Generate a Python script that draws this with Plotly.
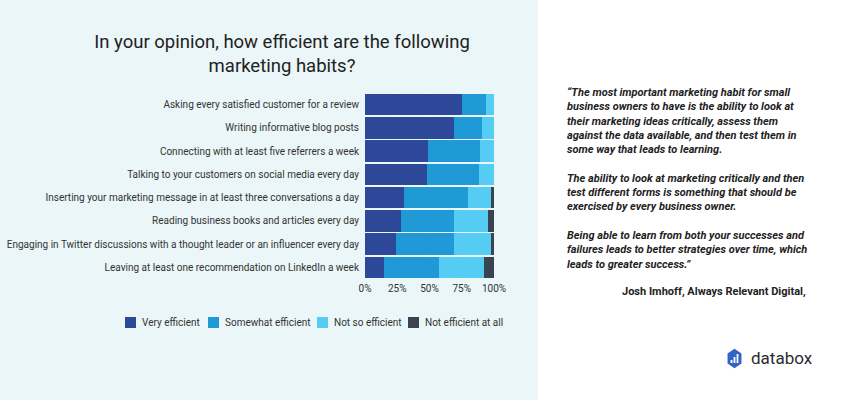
import plotly.graph_objects as go
import math

W, H = 850, 400

categories = [
    "Asking every satisfied customer for a review",
    "Writing informative blog posts",
    "Connecting with at least five referrers a week",
    "Talking to your customers on social media every day",
    "Inserting your marketing message in at least three conversations a day",
    "Reading business books and articles every day",
    "Engaging in Twitter discussions with a thought leader or an influencer every day",
    "Leaving at least one recommendation on LinkedIn a week",
]
very_efficient = [75, 69, 49, 48, 30, 28, 24, 15]
somewhat_efficient = [19, 22, 40, 40, 50, 41, 45, 42]
not_so_efficient = [6, 9, 11, 12, 18, 26, 29, 35]
not_efficient_at_all = [0, 0, 0, 0, 2, 5, 2, 8]

series_names = ["Very efficient", "Somewhat efficient", "Not so efficient", "Not efficient at all"]
series_values = [very_efficient, somewhat_efficient, not_so_efficient, not_efficient_at_all]
series_colors = ["#2E4899", "#1F9AD6", "#55CCF3", "#3A4350"]

tick_vals = [0, 25, 50, 75, 100]
tick_text = ["0%", "25%", "50%", "75%", "100%"]

title_text = "In your opinion, how efficient are the following<br>marketing habits?"
quote_text = (
    "<b><i>\u201cThe most important marketing habit for small<br>"
    "business owners to have is the ability to look at<br>"
    "their marketing ideas critically, assess them<br>"
    "against the data available, and then test them in<br>"
    "some way that leads to learning.<br><br>"
    "The ability to look at marketing critically and then<br>"
    "test different forms is something that should be<br>"
    "exercised by every business owner.<br><br>"
    "Being able to learn from both your successes and<br>"
    "failures leads to better strategies over time, which<br>"
    "leads to greater success.\u201d</i></b>"
)
attribution = "<b>Josh Imhoff, Always Relevant Digital,</b>"

# legend entry left edges (px) for the swatches
legend_x = [125, 208, 317, 408]


def px(x):
    return x / W


def py(y):
    return 1 - y / H


fig = go.Figure()
for name, vals, col in zip(series_names, series_values, series_colors):
    fig.add_trace(go.Bar(
        y=categories, x=vals, name=name, orientation="h",
        marker=dict(color=col, line=dict(width=0)),
    ))

shapes = [
    dict(type="rect", xref="paper", yref="paper", x0=0, x1=px(538), y0=0, y1=1,
         fillcolor="#EAF6F8", line=dict(width=0), layer="below"),
]
annotations = []

# legend (swatch + label)
for lx, name, col in zip(legend_x, series_names, series_colors):
    shapes.append(dict(type="rect", xref="paper", yref="paper",
                       x0=px(lx), x1=px(lx + 11), y0=py(328), y1=py(317),
                       fillcolor=col, line=dict(width=0)))
    annotations.append(dict(text=name, xref="paper", yref="paper", x=px(lx + 14.5),
                            y=py(322.5), xanchor="left", yanchor="middle", showarrow=False,
                            font=dict(family="Roboto", size=10, color="#333333")))

# databox logo hexagon
cx, cy, r = 734.5, 358.5, 9.8
pts = []
for k in range(6):
    a = math.radians(90 + 60 * k)
    pts.append((cx + r * math.cos(a) * 0.82, cy - r * math.sin(a)))
path = "M " + " L ".join(f"{px(x):.5f},{py(y):.5f}" for x, y in pts) + " Z"
shapes.append(dict(type="path", xref="paper", yref="paper", path=path,
                   fillcolor="#2F63C4", line=dict(width=0)))
for bx, bh in [(731.5, 3), (734.5, 6), (737.5, 9)]:
    shapes.append(dict(type="rect", xref="paper", yref="paper",
                       x0=px(bx - 0.9), x1=px(bx + 0.9), y0=py(363), y1=py(363 - bh),
                       fillcolor="white", line=dict(width=0)))

annotations += [
    dict(text=quote_text, xref="paper", yref="paper", x=px(565), y=py(84),
         xanchor="left", yanchor="top", align="left", showarrow=False,
         font=dict(family="Roboto", size=11, color="#222222")),
    dict(text=attribution, xref="paper", yref="paper", x=px(808), y=py(291),
         xanchor="right", yanchor="middle", align="right", showarrow=False,
         font=dict(family="Roboto", size=11, color="#222222")),
    dict(text="databox", xref="paper", yref="paper", x=px(749), y=py(358),
         xanchor="left", yanchor="middle", showarrow=False,
         font=dict(family="Roboto", size=17, color="#2B2B33")),
]

fig.update_layout(
    width=W, height=H,
    margin=dict(l=0, r=0, t=0, b=0),
    paper_bgcolor="white",
    plot_bgcolor="rgba(0,0,0,0)",
    barmode="stack",
    bargap=0.08,
    showlegend=False,
    title=dict(text=title_text, x=px(282), xanchor="center", y=py(48), yanchor="top",
               font=dict(family="Roboto", size=18.5, color="#222222")),
    font=dict(family="Roboto", size=10, color="#333333"),
    xaxis=dict(domain=[px(365), px(494)], range=[0, 100], tickvals=tick_vals,
               ticktext=tick_text, showgrid=True, gridcolor="#FFFFFF", gridwidth=1,
               zeroline=False, showline=False, ticks="", automargin=False,
               ticklabelstandoff=2,
               tickfont=dict(size=10, color="#333333")),
    yaxis=dict(domain=[py(279), py(93)], autorange="reversed", showgrid=False,
               ticks="", ticklabelstandoff=5, automargin=False, showline=False,
               tickfont=dict(size=10, color="#333333")),
    shapes=shapes,
    annotations=annotations,
)

fig.write_html("out.html", config={"displayModeBar": False},
               post_script="document.body.style.margin='0';")
